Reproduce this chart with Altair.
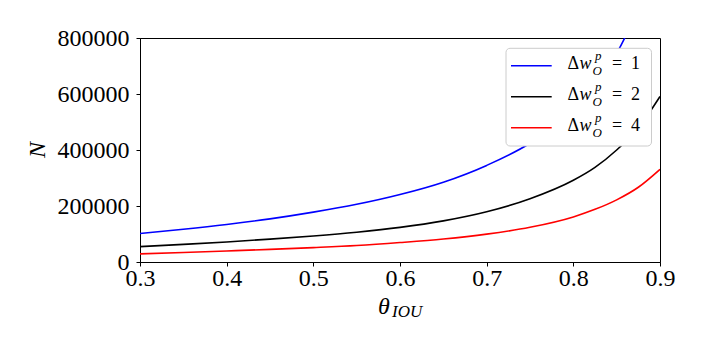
import altair as alt
import pandas as pd

# ---- data ----
theta = [0.30, 0.35, 0.40, 0.45, 0.50, 0.55, 0.60, 0.65, 0.70, 0.75, 0.80, 0.825, 0.85, 0.875, 0.90]
n_dw1 = [102000, 117000, 134000, 154000, 178000, 206000, 241000, 285000, 345000, 424000, 541000, 630000, 745000, 910000, 1140000]
n_dw2 = [55000, 63000, 71700, 81700, 93000, 106500, 123700, 147000, 179500, 226000, 292000, 338000, 400000, 479000, 591000]
n_dw4 = [29000, 34000, 39500, 45000, 51500, 59000, 69500, 82000, 99500, 124000, 161000, 188000, 222000, 267000, 331000]
series_names = ["1", "2", "4"]
series_colors = ["#0000ff", "#000000", "#ff0000"]
x_ticks = [0.3, 0.4, 0.5, 0.6, 0.7, 0.8, 0.9]
y_ticks = [0, 200000, 400000, 600000, 800000]

rows = []
for name, vals in zip(series_names, [n_dw1, n_dw2, n_dw4]):
    for t, v in zip(theta, vals):
        rows.append({"theta": t, "N": v, "dw": name})
df = pd.DataFrame(rows)

FONT = "Liberation Serif"
W, H = 520, 224

lines = alt.Chart(df).mark_line(clip=True, strokeWidth=1.6, interpolate="monotone").encode(
    x=alt.X("theta:Q", scale=alt.Scale(domain=[0.3, 0.9], nice=False, zero=False),
            axis=alt.Axis(values=x_ticks, format=".1f", title=None, grid=False,
                          labelFont=FONT, labelFontSize=24, labelColor="black",
                          tickColor="black", tickSize=4, labelPadding=0,
                          domainColor="black", labelFlush=False, labelOverlap=False)),
    y=alt.Y("N:Q", scale=alt.Scale(domain=[0, 800000], nice=False),
            axis=alt.Axis(values=y_ticks, format="d", title=None, grid=False,
                          labelFont=FONT, labelFontSize=24, labelColor="black",
                          tickColor="black", tickSize=4, labelPadding=7,
                          domainColor="black", labelFlush=False, labelOverlap=False)),
    color=alt.Color("dw:N", scale=alt.Scale(domain=series_names, range=series_colors), legend=None),
    detail="dw:N",
)

one = pd.DataFrame({"a": [0]})
layers = [lines]

def txt(s, x, y, size, italic=False, angle=0, align="left", baseline="alphabetic"):
    kw = dict(text=s, font=FONT, fontSize=size, align=align, baseline=baseline,
              color="black", clip=False)
    if italic:
        kw["fontStyle"] = "italic"
    if angle:
        kw["angle"] = angle
    return alt.Chart(one).mark_text(**kw).encode(x=alt.value(x), y=alt.value(y))

# axis titles
layers.append(txt("θ", 238, 276, 24, italic=True))
layers.append(txt("IOU", 252, 279, 17, italic=True))
layers.append(txt("N", -102, 112, 24, italic=True, angle=270, align="center", baseline="middle"))

# legend box
layers.append(alt.Chart(one).mark_rect(fill="white", fillOpacity=1, stroke="#cccccc",
                                       strokeWidth=1, cornerRadius=4).encode(
    x=alt.value(366), x2=alt.value(511.5), y=alt.value(10.3), y2=alt.value(108)))

for i, (name, col) in enumerate(zip(series_names, series_colors)):
    ly = 27.7 + 31 * i
    base = ly + 3.5
    layers.append(alt.Chart(one).mark_rule(color=col, strokeWidth=1.6).encode(
        x=alt.value(371), x2=alt.value(411.7), y=alt.value(ly)))
    layers.append(txt("Δ", 427.5, base, 18))
    layers.append(txt("w", 439.5, base, 18, italic=True))
    layers.append(txt("p", 455, base - 9, 13, italic=True))
    layers.append(txt("O", 452.5, base + 6, 13, italic=True))
    layers.append(txt("=", 472, base, 18))
    layers.append(txt(name, 491, base, 18))

chart = alt.layer(*layers).properties(
    width=W, height=H,
    autosize=alt.AutoSizeParams(type="none"),
    padding={"left": 132, "top": 30, "right": 38, "bottom": 83},
).configure_view(stroke="black", strokeWidth=1)

chart.save("out.html", embed_options={"renderer": "svg", "actions": False})
